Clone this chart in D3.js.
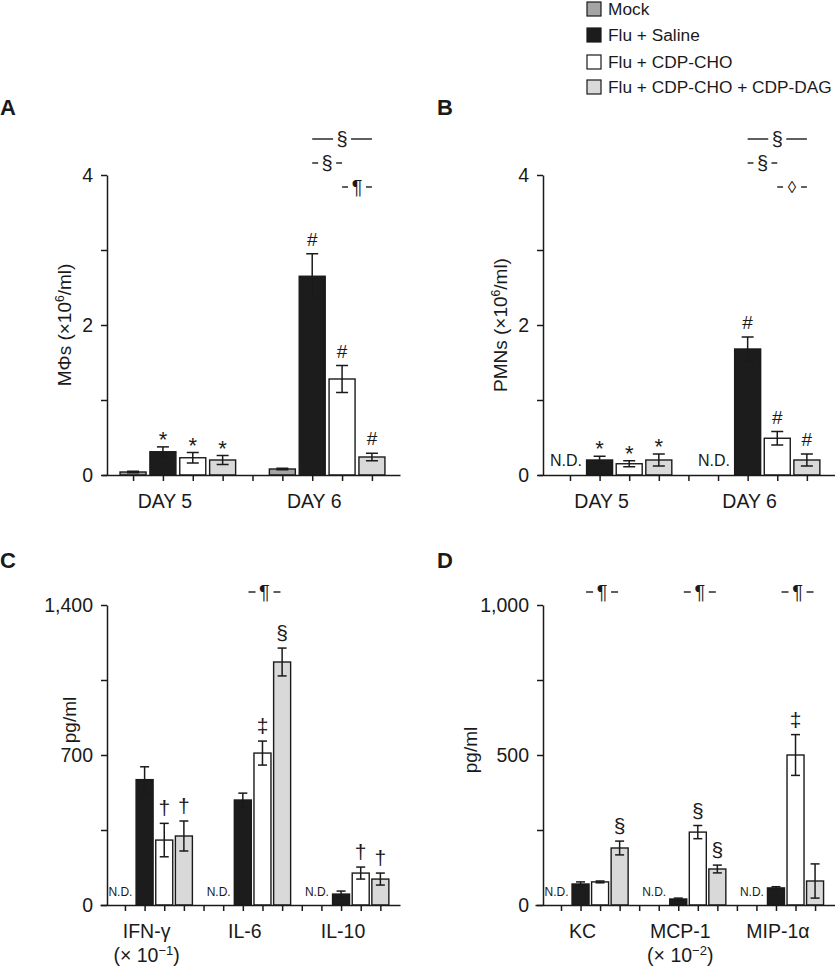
<!DOCTYPE html>
<html><head><meta charset="utf-8">
<script src="https://cdn.jsdelivr.net/npm/d3@7"></script>
<style>
body{margin:0;background:#fff}
text{font-family:"Liberation Sans",Arial,Helvetica,sans-serif;fill:#1a1a1a}
</style>
</head><body>
<svg id="chart" width="835" height="966"></svg>
<script>
// ---------------- DATA ----------------
const seriesNames = ["Mock", "Flu + Saline", "Flu + CDP-CHO", "Flu + CDP-CHO + CDP-DAG"];
const seriesColors = ["#a4a4a4", "#1c1c1c", "#ffffff", "#d9d9d9"];

// Panel A: macrophages (x10^6/ml)
const dayLabels = ["DAY 5", "DAY 6"];
const macMean = [[0.04, 0.31, 0.23, 0.20], [0.08, 2.65, 1.28, 0.24]];
const macErr  = [[0.01, 0.065, 0.07, 0.06], [0.01, 0.30, 0.18, 0.05]];
const macMarks = [["", "*", "*", "*"], ["", "#", "#", "#"]];
const macBrackets = [
  {group: 1, from: 1, to: 3, sym: "§", row: 0},
  {group: 1, from: 1, to: 2, sym: "§", row: 1},
  {group: 1, from: 2, to: 3, sym: "¶", row: 2}
];
const macTicks = [0, 1, 2, 3, 4];
const macTickLabels = ["0", "", "2", "", "4"];

// Panel B: PMNs (x10^6/ml); null = N.D.
const pmnMean = [[null, 0.20, 0.15, 0.20], [null, 1.68, 0.49, 0.20]];
const pmnErr  = [[0, 0.05, 0.04, 0.08], [0, 0.16, 0.09, 0.08]];
const pmnMarks = [["", "*", "*", "*"], ["", "#", "#", "#"]];
const pmnBrackets = [
  {group: 1, from: 1, to: 3, sym: "§", row: 0},
  {group: 1, from: 1, to: 2, sym: "§", row: 1},
  {group: 1, from: 2, to: 3, sym: "◊", row: 2}
];

// Panel C: cytokines (pg/ml)
const cytoLabels = ["IFN-γ", "IL-6", "IL-10"];
const cytoSub = [["(× 10", "−1", ")"], null, null];
const cytoMean = [[null, 585, 303, 322], [null, 490, 709, 1134], [null, 51, 149, 121]];
const cytoErr  = [[0, 60, 78, 70], [0, 32, 56, 65], [0, 14, 28, 28]];
const cytoMarks = [["", "", "†", "†"], ["", "", "‡", "§"], ["", "", "†", "†"]];
const cytoPilcrow = [null, "¶", null];
const cytoTicks = [0, 350, 700, 1050, 1400];
const cytoTickLabels = ["0", "", "700", "", "1,400"];

// Panel D: chemokines (pg/ml)
const chemoLabels = ["KC", "MCP-1", "MIP-1α"];
const chemoSub = [null, ["(× 10", "−2", ")"], null];
const chemoMean = [[null, 70, 77, 190], [null, 20, 243, 120], [null, 57, 500, 80]];
const chemoErr  = [[0, 7, 3, 23], [0, 3, 22, 13], [0, 4, 68, 57]];
const chemoMarks = [["", "", "", "§"], ["", "", "§", "§"], ["", "", "‡", ""]];
const chemoPilcrow = ["¶", "¶", "¶"];
const chemoTicks = [0, 250, 500, 750, 1000];
const chemoTickLabels = ["0", "", "500", "", "1,000"];

// ---------------- DRAWING ----------------
const svg = d3.select("#chart");
const INK = "#1a1a1a";

function drawPanel(cfg) {
  const g = svg.append("g");
  const nG = cfg.means.length;
  const x = d3.scaleLinear().domain(cfg.xDomain).range(cfg.xRange);
  const y = d3.scaleLinear().domain([0, cfg.yMax]).range([cfg.y0, cfg.yTop]);
  const slot = (gi, si) => gi * 5 + si;

  // panel letter
  g.append("text").attr("x", cfg.letterX).attr("y", cfg.letterY)
    .attr("font-size", 22).attr("font-weight", "bold").text(cfg.letter);

  // y axis
  const ya = g.append("g").attr("transform", `translate(${cfg.axisX},0)`)
    .call(d3.axisLeft(y).tickValues(cfg.ticks).tickSize(6).tickSizeOuter(0).tickPadding(8)
      .tickFormat((d, i) => cfg.tickLabels[i]));
  ya.selectAll("path,line").attr("stroke", INK).attr("stroke-width", 1.5);
  ya.selectAll("text").attr("font-size", 19.5).attr("fill", INK)
    .attr("font-family", '"Liberation Sans",Arial,sans-serif');

  // y label
  const yl = g.append("text")
    .attr("transform", `translate(${cfg.ylabX},${cfg.ylabY}) rotate(-90)`)
    .attr("text-anchor", "middle").attr("font-size", 19);
  cfg.ylabel.forEach(p => {
    const t = yl.append("tspan").text(p.t);
    if (p.sup) t.attr("baseline-shift", "super").attr("font-size", 12);
  });

  // bars
  cfg.means.forEach((row, gi) => {
    row.forEach((v, si) => {
      const cx = x(slot(gi, si));
      if (v === null) {
        g.append("text").attr("x", cx + cfg.barW / 2 - 1).attr("y", cfg.y0 - 9)
          .attr("text-anchor", "end").attr("font-size", cfg.ndSize).text("N.D.");
        return;
      }
      g.append("rect").attr("x", cx - cfg.barW / 2).attr("y", y(v))
        .attr("width", cfg.barW).attr("height", cfg.y0 - y(v))
        .attr("fill", seriesColors[si]).attr("stroke", INK).attr("stroke-width", 1.4);
      const e = cfg.errs[gi][si];
      const eg = g.append("g").attr("stroke", INK).attr("stroke-width", 1.5);
      eg.append("line").attr("x1", cx).attr("x2", cx).attr("y1", y(v + e)).attr("y2", y(Math.max(0, v - e)));
      eg.append("line").attr("x1", cx - cfg.capW / 2).attr("x2", cx + cfg.capW / 2).attr("y1", y(v + e)).attr("y2", y(v + e));
      if (v - e > 0)
        eg.append("line").attr("x1", cx - cfg.capW / 2).attr("x2", cx + cfg.capW / 2).attr("y1", y(v - e)).attr("y2", y(v - e));
      const m = cfg.marks[gi][si];
      if (m) {
        const big = m === "*" ? 22 : (m === "#" ? 19 : cfg.symSize);
        g.append("text").attr("x", cx).attr("y", y(v + e) - (m === "*" ? 0 : 8))
          .attr("text-anchor", "middle").attr("font-size", big).text(m);
      }
    });
  });

  // x axis
  const xa = g.append("g").attr("transform", `translate(0,${cfg.y0})`)
    .call(d3.axisBottom(x).tickValues(d3.range(nG * 5 - 1)).tickSize(6).tickSizeOuter(0).tickFormat(""));
  xa.selectAll("path,line").attr("stroke", INK).attr("stroke-width", 1.5);

  // category labels
  cfg.cats.forEach((c, gi) => {
    const cx = x(slot(gi, 1)) + 2;
    g.append("text").attr("x", cx).attr("y", cfg.y0 + 33).attr("text-anchor", "middle")
      .attr("font-size", 19.5).text(c);
    const sub = cfg.subs ? cfg.subs[gi] : null;
    if (sub) {
      const t = g.append("text").attr("x", cx).attr("y", cfg.y0 + 57).attr("text-anchor", "middle")
        .attr("font-size", 19.5);
      t.append("tspan").text(sub[0]);
      t.append("tspan").attr("baseline-shift", "super").attr("font-size", 13).text(sub[1]);
      t.append("tspan").text(sub[2]);
    }
  });

  // brackets
  (cfg.brackets || []).forEach(b => {
    const x1 = x(slot(b.group, b.from)), x2 = x(slot(b.group, b.to));
    const xm = (x1 + x2) / 2, yy = cfg.bracketRows[b.row];
    const gap = 9;
    const bg = g.append("g").attr("stroke", INK).attr("stroke-width", 1.4);
    bg.append("line").attr("x1", x1).attr("x2", xm - gap).attr("y1", yy).attr("y2", yy);
    bg.append("line").attr("x1", xm + gap).attr("x2", x2).attr("y1", yy).attr("y2", yy);
    g.append("text").attr("x", xm).attr("y", yy).attr("dy", "0.35em").attr("text-anchor", "middle")
      .attr("font-size", b.sym === "◊" ? 17 : 20).text(b.sym);
  });

  // pilcrow marks
  (cfg.pilcrows || []).forEach((p, gi) => {
    if (!p) return;
    const xm = x(slot(gi, 2)) + 2, yy = cfg.pilY;
    const bg = g.append("g").attr("stroke", INK).attr("stroke-width", 1.4);
    bg.append("line").attr("x1", xm - 16).attr("x2", xm - 9).attr("y1", yy).attr("y2", yy);
    bg.append("line").attr("x1", xm + 9).attr("x2", xm + 16).attr("y1", yy).attr("y2", yy);
    g.append("text").attr("x", xm).attr("y", yy).attr("dy", "0.35em").attr("text-anchor", "middle")
      .attr("font-size", 20).text(p);
  });
}

// Panel A
drawPanel({
  letter: "A", letterX: 0, letterY: 115,
  means: macMean, errs: macErr, marks: macMarks, cats: dayLabels, brackets: macBrackets,
  xDomain: [-1.04, 8.94], xRange: [102, 400], axisX: 107,
  y0: 475, yTop: 175, yMax: 4, ticks: macTicks, tickLabels: macTickLabels,
  barW: 26, capW: 12, ndSize: 15, symSize: 20,
  bracketRows: [139, 163, 187],
  ylabX: 71, ylabY: 325,
  ylabel: [{t: "MΦs (×10"}, {t: "6", sup: true}, {t: "/ml)"}]
});

// Panel B
drawPanel({
  letter: "B", letterX: 437, letterY: 115,
  means: pmnMean, errs: pmnErr, marks: pmnMarks, cats: dayLabels, brackets: pmnBrackets,
  xDomain: [-1.08, 8.95], xRange: [538, 835], axisX: 543,
  y0: 475, yTop: 175, yMax: 4, ticks: macTicks, tickLabels: macTickLabels,
  barW: 26, capW: 12, ndSize: 16, symSize: 20,
  bracketRows: [139, 163, 187],
  ylabX: 507, ylabY: 325,
  ylabel: [{t: "PMNs (×10"}, {t: "6", sup: true}, {t: "/ml)"}]
});

// Panel C
drawPanel({
  letter: "C", letterX: 0, letterY: 568,
  means: cytoMean, errs: cytoErr, marks: cytoMarks, cats: cytoLabels, subs: cytoSub,
  pilcrows: cytoPilcrow, pilY: 592,
  xDomain: [-1.27, 14.0], xRange: [100, 400], axisX: 107,
  y0: 905, yTop: 605, yMax: 1400, ticks: cytoTicks, tickLabels: cytoTickLabels,
  barW: 17, capW: 9, ndSize: 12, symSize: 21,
  ylabX: 76, ylabY: 720,
  ylabel: [{t: "pg/ml"}]
});

// Panel D
drawPanel({
  letter: "D", letterX: 437, letterY: 568,
  means: chemoMean, errs: chemoErr, marks: chemoMarks, cats: chemoLabels, subs: chemoSub,
  pilcrows: chemoPilcrow, pilY: 592,
  xDomain: [-1.33, 14.02], xRange: [535, 835], axisX: 543,
  y0: 905, yTop: 605, yMax: 1000, ticks: chemoTicks, tickLabels: chemoTickLabels,
  barW: 17, capW: 9, ndSize: 12, symSize: 21,
  ylabX: 477, ylabY: 750,
  ylabel: [{t: "pg/ml"}]
});

// Legend
const leg = svg.append("g");
const legY = [9, 35, 62, 87];
seriesNames.forEach((n, i) => {
  leg.append("rect").attr("x", 587).attr("y", legY[i] - 7).attr("width", 14).attr("height", 14)
    .attr("fill", seriesColors[i]).attr("stroke", INK).attr("stroke-width", 1.2);
  leg.append("text").attr("x", 608).attr("y", legY[i]).attr("dy", "0.35em")
    .attr("font-size", 17.3).text(n);
});
</script>
</body></html>
